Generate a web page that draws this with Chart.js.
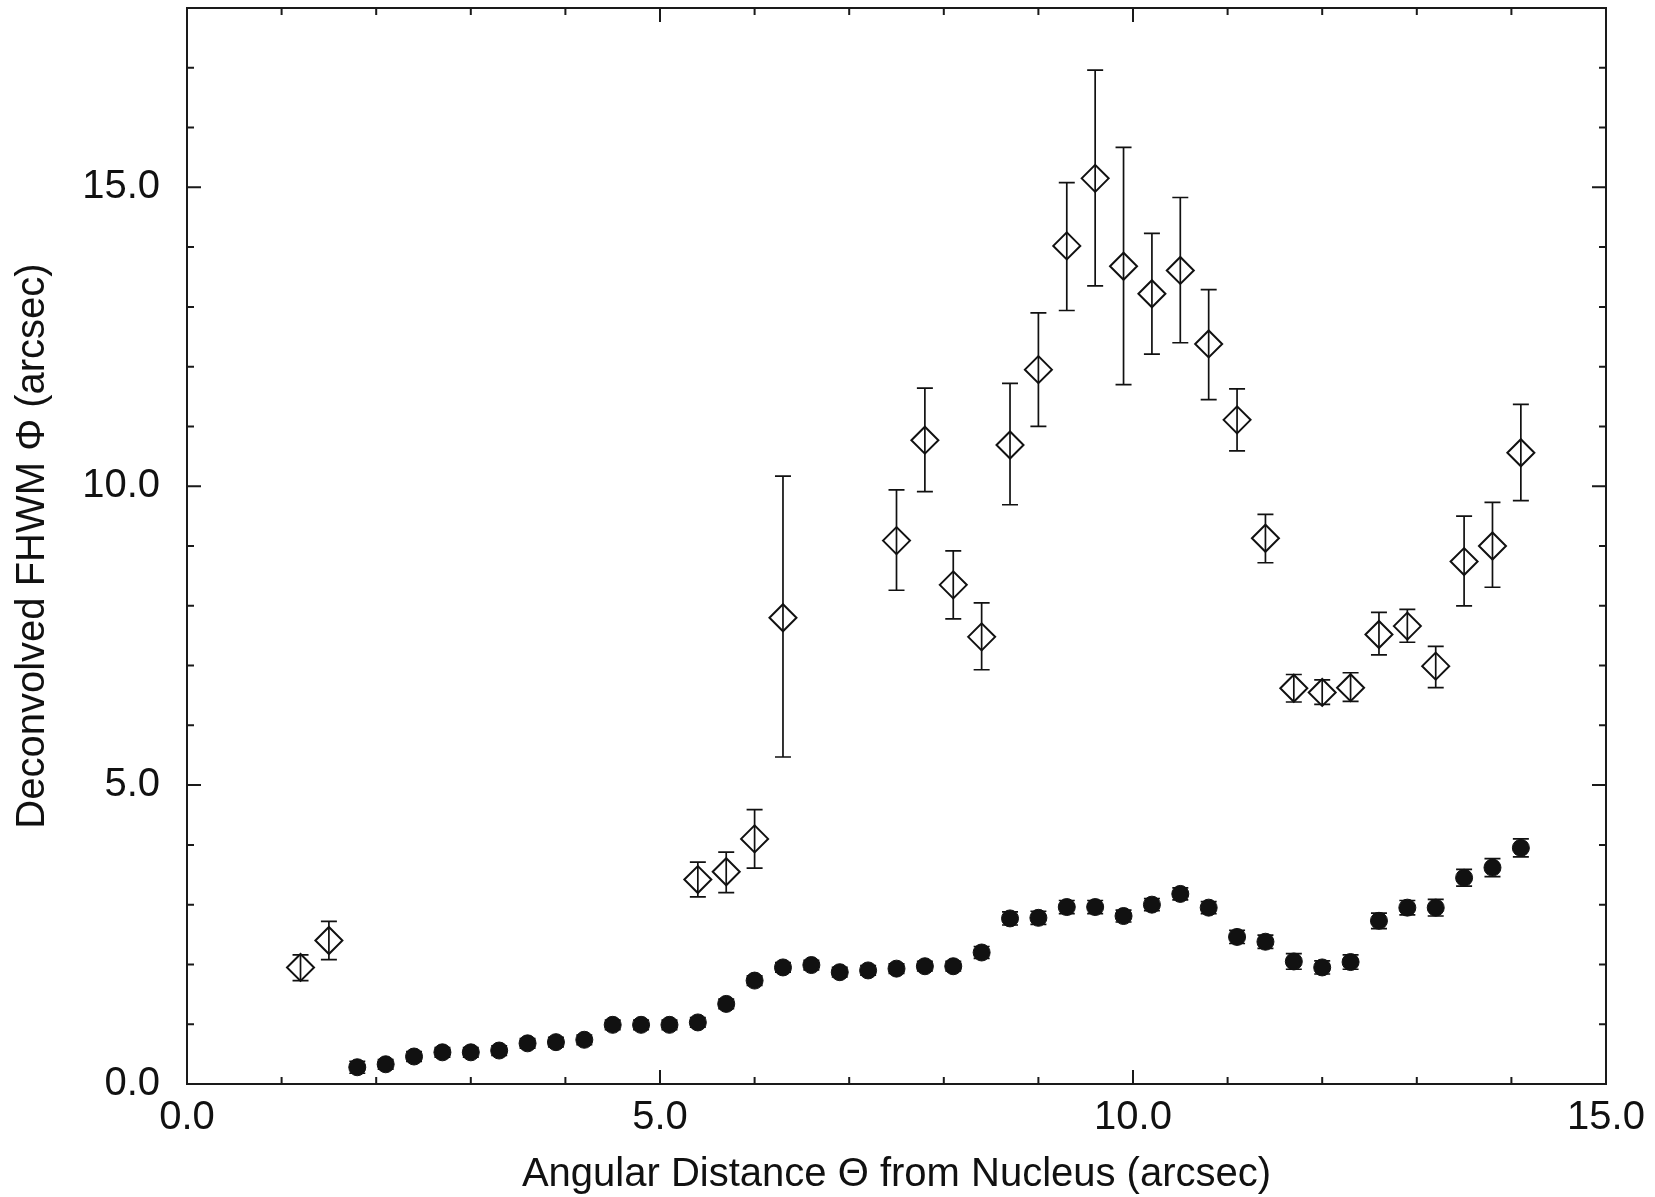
<!DOCTYPE html>
<html>
<head>
<meta charset="utf-8">
<script src="https://cdn.jsdelivr.net/npm/chart.js@4.4.0/dist/chart.umd.min.js"></script>
<style>
  html, body { margin: 0; padding: 0; background: #fff; }
</style>
</head>
<body>
<canvas id="fwhmChart" width="1655" height="1197"></canvas>
<script>
// filled circles: deconvolved FWHM, first component
const dotX = [1.8, 2.1, 2.4, 2.7, 3.0, 3.3, 3.6, 3.9, 4.2, 4.5, 4.8, 5.1, 5.4, 5.7,
              6.0, 6.3, 6.6, 6.9, 7.2, 7.5, 7.8, 8.1, 8.4, 8.7, 9.0, 9.3, 9.6, 9.9,
              10.2, 10.5, 10.8, 11.1, 11.4, 11.7, 12.0, 12.3, 12.6, 12.9, 13.2, 13.5, 13.8, 14.1];
const dotY = [0.28, 0.33, 0.46, 0.53, 0.53, 0.56, 0.68, 0.70, 0.74, 0.99, 0.99, 0.99, 1.03, 1.34,
              1.73, 1.95, 1.99, 1.87, 1.90, 1.93, 1.97, 1.97, 2.20, 2.77, 2.78, 2.96, 2.96, 2.81,
              3.00, 3.18, 2.95, 2.46, 2.38, 2.05, 1.95, 2.04, 2.73, 2.95, 2.95, 3.45, 3.62, 3.95];
const dotErr = [0.10, 0.08, 0.08, 0.08, 0.08, 0.08, 0.08, 0.08, 0.08, 0.08, 0.08, 0.08, 0.08, 0.08,
                0.08, 0.08, 0.08, 0.08, 0.08, 0.08, 0.08, 0.08, 0.10, 0.11, 0.11, 0.11, 0.11, 0.10,
                0.10, 0.10, 0.10, 0.11, 0.11, 0.13, 0.11, 0.12, 0.13, 0.12, 0.14, 0.14, 0.15, 0.15];

// open diamonds: second component, with asymmetric error bars
const diaX = [1.2, 1.5, 5.4, 5.7, 6.0, 6.3, 7.5, 7.8, 8.1, 8.4, 8.7, 9.0, 9.3, 9.6, 9.9,
              10.2, 10.5, 10.8, 11.1, 11.4, 11.7, 12.0, 12.3, 12.6, 12.9, 13.2, 13.5, 13.8, 14.1];
const diaY = [1.95, 2.40, 3.42, 3.55, 4.10, 7.80, 9.09, 10.77, 8.35, 7.48, 10.69, 11.95, 14.02, 15.15, 13.68,
              13.22, 13.61, 12.38, 11.11, 9.13, 6.62, 6.55, 6.63, 7.52, 7.66, 6.99, 8.74, 9.00, 10.56];
const diaHi = [2.16, 2.72, 3.71, 3.88, 4.59, 10.17, 9.94, 11.64, 8.92, 8.05, 11.72, 12.90, 15.08, 16.96, 15.67,
               14.23, 14.83, 13.29, 11.63, 9.53, 6.85, 6.76, 6.88, 7.89, 7.94, 7.32, 9.50, 9.73, 11.37];
const diaLo = [1.73, 2.08, 3.13, 3.20, 3.61, 5.47, 8.26, 9.91, 7.78, 6.93, 9.69, 11.00, 12.94, 13.35, 11.70,
               12.21, 12.40, 11.45, 10.59, 8.72, 6.39, 6.35, 6.40, 7.18, 7.39, 6.63, 8.00, 8.31, 9.76];

// axis settings
const xRange = [0, 15];
const yRange = [0, 18];
const labelEvery = 5;

const FONT = "'Liberation Sans', Arial, Helvetica, sans-serif";
const INK = '#111111';

const dotPoints = dotX.map((x, i) => ({ x: x, y: dotY[i], hi: dotY[i] + dotErr[i], lo: dotY[i] - dotErr[i] }));
const diaPoints = diaX.map((x, i) => ({ x: x, y: diaY[i], hi: diaHi[i], lo: diaLo[i] }));

// error bars, drawn under the markers
const errorBars = {
    id: 'errorBars',
    beforeDatasetsDraw(chart) {
        const ctx = chart.ctx;
        const xs = chart.scales.x, ys = chart.scales.y;
        ctx.save();
        ctx.strokeStyle = INK;
        ctx.lineWidth = 1.7;
        chart.data.datasets.forEach(function(ds) {
            ds.data.forEach(function(p) {
                const px = xs.getPixelForValue(p.x);
                const top = ys.getPixelForValue(p.hi);
                const bot = ys.getPixelForValue(p.lo);
                ctx.beginPath();
                ctx.moveTo(px, top); ctx.lineTo(px, bot);
                ctx.moveTo(px - 8, top); ctx.lineTo(px + 8, top);
                ctx.moveTo(px - 8, bot); ctx.lineTo(px + 8, bot);
                ctx.stroke();
            });
        });
        ctx.restore();
    }
};

// box frame with inward ticks on all four sides
const frame = {
    id: 'frame',
    beforeDatasetsDraw(chart) {
        const ctx = chart.ctx;
        const a = chart.chartArea;
        const xs = chart.scales.x, ys = chart.scales.y;
        ctx.save();
        ctx.strokeStyle = '#1a1a1a';
        ctx.lineWidth = 2;
        ctx.strokeRect(a.left, a.top, a.right - a.left, a.bottom - a.top);
        ctx.beginPath();
        xs.ticks.forEach(function(t) {
            const px = xs.getPixelForValue(t.value);
            const len = t.value % labelEvery === 0 ? 14 : 7;
            ctx.moveTo(px, a.bottom); ctx.lineTo(px, a.bottom - len);
            ctx.moveTo(px, a.top); ctx.lineTo(px, a.top + len);
        });
        ys.ticks.forEach(function(t) {
            const py = ys.getPixelForValue(t.value);
            const len = t.value % labelEvery === 0 ? 14 : 7;
            ctx.moveTo(a.left, py); ctx.lineTo(a.left + len, py);
            ctx.moveTo(a.right, py); ctx.lineTo(a.right - len, py);
        });
        ctx.stroke();
        ctx.restore();
    }
};

function tickLabel(value) {
    return value % labelEvery === 0 ? value.toFixed(1) : '';
}

// no automatic label padding around the plot box
function noPadding(scale) {
    scale.paddingTop = 0;
    scale.paddingBottom = 0;
    scale.paddingLeft = 0;
    scale.paddingRight = 0;
}

new Chart(document.getElementById('fwhmChart').getContext('2d'), {
    type: 'scatter',
    data: {
        datasets: [{
            label: 'filled',
            data: dotPoints,
            pointStyle: 'circle',
            pointRadius: 8.5,
            pointHoverRadius: 8.5,
            backgroundColor: INK,
            borderColor: INK,
            borderWidth: 1
        }, {
            label: 'diamonds',
            data: diaPoints,
            pointStyle: 'rectRot',
            pointRadius: 13.5,
            pointHoverRadius: 13.5,
            backgroundColor: 'rgba(0,0,0,0)',
            borderColor: INK,
            borderWidth: 2
        }]
    },
    options: {
        responsive: false,
        devicePixelRatio: 1,
        animation: false,
        layout: {
            autoPadding: false,
            padding: { left: 0, right: 49, top: 8, bottom: 0 }
        },
        plugins: {
            legend: { display: false },
            tooltip: { enabled: false }
        },
        scales: {
            x: {
                type: 'linear',
                min: xRange[0],
                max: xRange[1],
                grid: { display: false, drawTicks: false },
                border: { display: false },
                ticks: {
                    stepSize: 1,
                    autoSkip: false,
                    maxRotation: 0,
                    padding: 10,
                    color: INK,
                    font: { family: FONT, size: 40 },
                    callback: tickLabel
                },
                title: {
                    display: true,
                    text: 'Angular Distance Θ from Nucleus (arcsec)',
                    color: INK,
                    font: { family: FONT, size: 40, lineHeight: 1.0 },
                    padding: { top: 0, bottom: 2 }
                },
                afterFit: function(scale) {
                    scale.height = 113;
                    noPadding(scale);
                },
                afterUpdate: noPadding
            },
            y: {
                type: 'linear',
                min: yRange[0],
                max: yRange[1],
                grid: { display: false, drawTicks: false },
                border: { display: false },
                ticks: {
                    stepSize: 1,
                    autoSkip: false,
                    padding: 27,
                    color: INK,
                    font: { family: FONT, size: 40 },
                    callback: tickLabel
                },
                title: {
                    display: true,
                    text: 'Deconvolved FHWM Φ (arcsec)',
                    color: INK,
                    font: { family: FONT, size: 40 },
                    padding: { top: 9, bottom: 0 }
                },
                afterFit: function(scale) {
                    scale.width = 187;
                    noPadding(scale);
                },
                afterUpdate: noPadding
            }
        }
    },
    plugins: [frame, errorBars]
});
</script>
</body>
</html>
